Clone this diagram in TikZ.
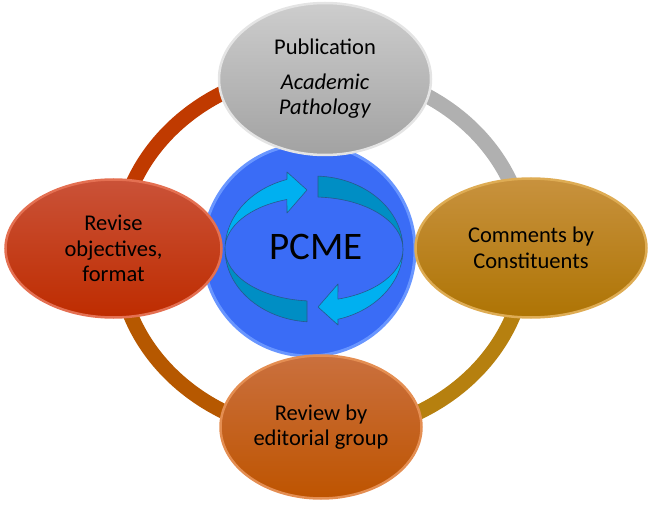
\documentclass[tikz,border=0pt]{standalone}
\usepackage{fontspec}
\setmainfont{Carlito}
\usetikzlibrary{shapes.geometric}
\definecolor{ringred}{RGB}{192,58,0}
\definecolor{ringgray}{RGB}{176,176,176}
\definecolor{ringorange}{RGB}{182,88,0}
\definecolor{ringgold}{RGB}{182,128,15}
\definecolor{bluefill}{RGB}{58,108,246}
\definecolor{bluerim}{RGB}{105,150,255}
\definecolor{arrcyan}{RGB}{0,176,240}
\definecolor{arrteal}{RGB}{0,142,196}
\definecolor{arredge}{RGB}{40,90,140}
\definecolor{grayT}{RGB}{205,205,205}
\definecolor{grayB}{RGB}{162,162,162}
\definecolor{grayRim}{RGB}{228,228,228}
\definecolor{goldT}{RGB}{200,146,62}
\definecolor{goldB}{RGB}{174,116,4}
\definecolor{goldRim}{RGB}{222,172,84}
\definecolor{orT}{RGB}{202,112,62}
\definecolor{orB}{RGB}{190,84,0}
\definecolor{orRim}{RGB}{228,142,82}
\definecolor{redT}{RGB}{202,82,56}
\definecolor{redB}{RGB}{190,44,0}
\definecolor{redRim}{RGB}{228,112,82}
\begin{document}
\begin{tikzpicture}[x=1pt,y=1pt,
  ringarc/.style={line width=15pt},
  bubble/.style={ellipse, inner sep=0pt, align=center, line width=2.5pt,
    font=\fontsize{22.5}{25.5}\selectfont},
  arrowshape/.style={fill=arrcyan, draw=arredge, line width=0.6pt, line join=round},
  bandshape/.style={fill=arrteal, draw=arredge, line width=0.6pt, line join=round}]
\useasboundingbox (0,0) rectangle (653,504);

% ring
\coordinate (rT) at (322,434);
\coordinate (rL) at (118,252);
\coordinate (rB) at (322,70);
\coordinate (rR) at (526,252);
\draw[ringarc, ringred] (rT) arc[start angle=90, end angle=180, x radius=204, y radius=182];
\draw[ringarc, ringorange] (rL) arc[start angle=180, end angle=270, x radius=204, y radius=182];
\draw[ringarc, ringgold] (rB) arc[start angle=270, end angle=360, x radius=204, y radius=182];
\draw[ringarc, ringgray] (rR) arc[start angle=0, end angle=90, x radius=204, y radius=182];

% central circle
\node[circle, minimum size=212pt, inner sep=0pt, fill=bluefill, draw=bluerim, line width=3pt] (core) at (309,254) {};

% circular arrows
\path[bandshape] (318,327.9) arc[start angle=87.4, end angle=0, x radius=89, y radius=73]
  arc[start angle=0, end angle=87.4, x radius=89, y radius=52] -- cycle;
\path[bandshape] (307,182.2) arc[start angle=265.5, end angle=180, x radius=89, y radius=73]
  arc[start angle=180, end angle=265.5, x radius=89, y radius=52] -- cycle;
\path[arrowshape] (225,255) arc[start angle=180, end angle=107.7, x radius=89, y radius=73]
  -- (287,332) -- (307,314) -- (287,291) -- (286.9,304.5)
  arc[start angle=107.7, end angle=180, x radius=89, y radius=52] -- cycle;
\path[arrowshape] (403,255) arc[start angle=0, end angle=-74.4, x radius=89, y radius=73]
  -- (338,179) -- (318,197) -- (338,220) -- (337.9,204.9)
  arc[start angle=-74.4, end angle=0, x radius=89, y radius=52] -- cycle;

\node[font=\fontsize{39}{41}\selectfont] (pcme) at (316,257) {PCME};

% bubbles
\node[bubble, top color=grayT, bottom color=grayB, draw=grayRim,
  minimum width=212pt, minimum height=152pt] (pub) at (325,425)
  {Publication\\[9pt]\textit{Academic}\\\textit{Pathology}};
\node[bubble, top color=goldT, bottom color=goldB, draw=goldRim,
  minimum width=231pt, minimum height=139pt] (comm) at (531,256)
  {Comments by\\Constituents};
\node[bubble, top color=orT, bottom color=orB, draw=orRim,
  minimum width=201pt, minimum height=143pt] (rev) at (321,77)
  {Review by\\editorial group};
\node[bubble, top color=redT, bottom color=redB, draw=redRim,
  minimum width=216pt, minimum height=138pt] (obj) at (113.5,255.5)
  {Revise\\objectives,\\format};
\end{tikzpicture}
\end{document}
